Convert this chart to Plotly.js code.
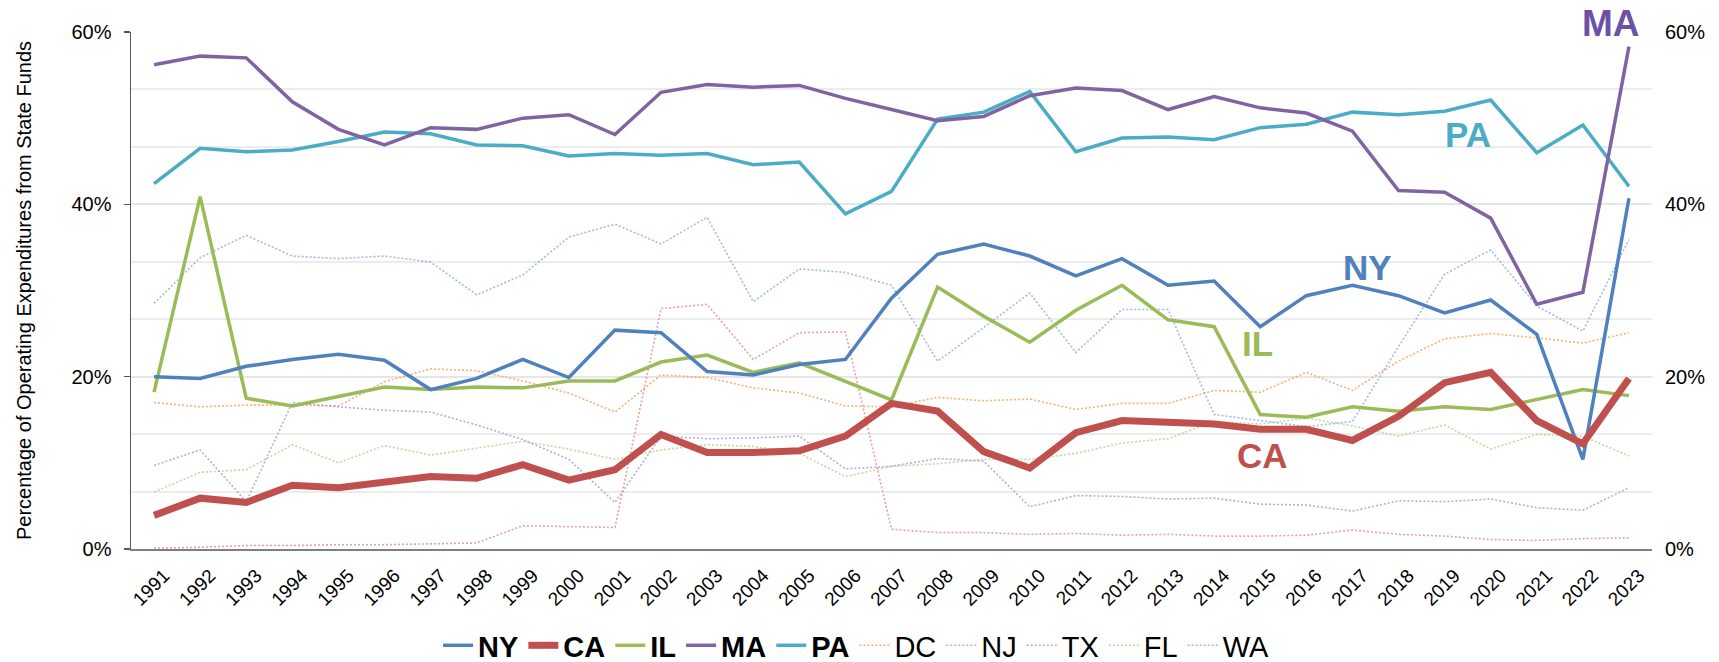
<!DOCTYPE html>
<html>
<head>
<meta charset="utf-8">
<script src="https://cdn.plot.ly/plotly-3.0.1.min.js"></script>
<style>
  html, body { margin: 0; padding: 0; background: #ffffff; }
  #chart { width: 1719px; height: 662px; }
</style>
</head>
<body>
<div id="chart"></div>
<script>
// ---- Data (percent of operating expenditures from state funds) ----
const years = [1991,1992,1993,1994,1995,1996,1997,1998,1999,2000,2001,2002,2003,2004,2005,2006,2007,2008,2009,2010,2011,2012,2013,2014,2015,2016,2017,2018,2019,2020,2021,2022,2023];
const yearLabels = years.map(String);

const NY = [20.0,19.8,21.2,22.0,22.6,21.9,18.5,19.8,22.0,19.9,25.4,25.1,20.6,20.2,21.4,22.0,29.1,34.2,35.4,34.0,31.7,33.7,30.6,31.1,25.8,29.4,30.6,29.4,27.4,28.9,24.9,10.4,40.7];
const CA = [3.9,5.9,5.4,7.4,7.1,7.8,8.4,8.2,9.8,8.0,9.2,13.3,11.2,11.2,11.4,13.1,16.9,16.0,11.3,9.4,13.5,14.9,14.8,14.5,13.9,13.9,12.6,15.4,19.3,20.5,14.9,12.2,19.8];
const IL = [18.2,40.9,17.5,16.6,17.7,18.8,18.5,18.8,18.7,19.5,19.5,21.7,22.5,20.5,21.6,19.5,17.3,30.4,27.0,24.0,27.7,30.6,26.6,25.8,15.6,15.3,16.5,16.0,16.5,16.2,17.4,18.5,17.8];
const MA = [56.2,57.2,57.0,51.9,48.7,46.9,48.9,48.7,50.0,50.4,48.1,53.0,53.9,53.6,53.8,52.3,51.0,49.7,50.2,52.6,53.5,53.2,51.0,52.5,51.2,50.6,48.5,41.6,41.4,38.4,28.4,29.8,58.3];
const PA = [42.4,46.5,46.1,46.3,47.3,48.4,48.2,46.9,46.8,45.6,45.9,45.7,45.9,44.6,44.9,38.9,41.5,49.9,50.7,53.1,46.1,47.7,47.8,47.5,48.9,49.3,50.7,50.4,50.8,52.1,46.0,49.2,42.1];
const DC = [17.0,16.5,16.7,16.7,16.6,19.4,20.9,20.7,19.5,18.1,15.9,20.2,19.9,18.7,18.1,16.6,16.5,17.6,17.2,17.4,16.2,16.9,16.9,18.4,18.2,20.5,18.4,21.8,24.4,25.0,24.5,23.9,25.1];
const NJ = [28.5,33.8,36.4,34.0,33.7,34.0,33.3,29.5,31.8,36.2,37.7,35.4,38.5,28.7,32.5,32.1,30.6,21.8,25.7,29.7,22.8,27.8,27.8,15.6,14.9,14.2,14.8,23.5,31.9,34.7,28.2,25.3,35.9];
const TX = [0.1,0.2,0.4,0.4,0.5,0.5,0.6,0.7,2.7,2.6,2.5,27.9,28.4,22.0,25.1,25.2,2.3,1.9,1.9,1.7,1.8,1.6,1.7,1.5,1.5,1.6,2.2,1.7,1.5,1.1,1.0,1.2,1.3];
const FL = [6.6,8.9,9.2,12.1,10.0,12.0,10.9,11.7,12.5,11.6,10.4,11.5,12.1,11.9,11.1,8.4,9.6,9.9,10.4,10.4,11.1,12.3,12.8,14.8,14.5,15.2,14.3,13.1,14.4,11.6,13.3,13.1,10.8];
const WA = [9.7,11.5,5.5,17.0,16.5,16.1,15.9,14.4,12.7,10.4,5.4,13.1,12.8,12.9,13.1,9.3,9.6,10.5,10.2,4.9,6.2,6.1,5.8,5.9,5.2,5.1,4.4,5.6,5.5,5.8,4.8,4.5,7.1];

const yTicks = [0, 20, 40, 60];
const yTickLabels = ["0%", "20%", "40%", "60%"];

// ---- Series styling ----
const FONT = "Liberation Sans, Arial, sans-serif";
const mainSeries = [
  {name: "NY", data: NY, color: "#4F81BD", width: 3.5, rank: 1},
  {name: "CA", data: CA, color: "#C0504D", width: 7,   rank: 2},
  {name: "IL", data: IL, color: "#9BBB59", width: 3.5, rank: 3},
  {name: "MA", data: MA, color: "#8064A2", width: 3.5, rank: 4},
  {name: "PA", data: PA, color: "#4BACC6", width: 3.5, rank: 5}
];
const minorSeries = [
  {name: "DC", data: DC, color: "#F79646", rank: 6},
  {name: "NJ", data: NJ, color: "#7FA6DA", rank: 7},
  {name: "TX", data: TX, color: "#E08080", rank: 8},
  {name: "FL", data: FL, color: "#A8CF7E", rank: 9},
  {name: "WA", data: WA, color: "#A08FD0", rank: 10}
];

const traces = [];
minorSeries.forEach(s => traces.push({
  type: "scatter", mode: "lines", x: years, y: s.data, name: s.name,
  legendrank: s.rank, opacity: 0.75,
  line: {color: s.color, width: 1.6, dash: "2px,2px"}
}));
// draw order: PA, MA, IL, NY, CA (CA on top)
["PA","MA","IL","NY","CA"].forEach(n => {
  const s = mainSeries.find(m => m.name === n);
  traces.push({
    type: "scatter", mode: "lines", x: years, y: s.data, name: "<b>" + s.name + "</b>",
    legendrank: s.rank,
    line: {color: s.color, width: s.width}
  });
});
// invisible trace so the right-hand axis is drawn
traces.push({type: "scatter", mode: "lines", x: years, y: MA, yaxis: "y2",
  showlegend: false, hoverinfo: "skip", line: {width: 0}, opacity: 0});

// label positions: x in years, y in percent
const labels = [
  {text: "MA", x: 2022.62, y: 61.0, color: "#6C51A6", size: 37},
  {text: "PA", x: 2019.51, y: 48.1, color: "#4BACC6", size: 35},
  {text: "NY", x: 2017.33, y: 32.7, color: "#4F81BD", size: 35},
  {text: "IL", x: 2014.95, y: 23.9, color: "#9BBB59", size: 35},
  {text: "CA", x: 2015.06, y: 10.9, color: "#C0504D", size: 35}
];
const Y_MAX = 60;

const layout = {
  width: 1719, height: 662,
  paper_bgcolor: "#ffffff", plot_bgcolor: "#ffffff",
  margin: {l: 131, r: 67, t: 32, b: 113, autoexpand: false},
  font: {family: FONT, color: "#000000", size: 16},
  showlegend: true,
  legend: {
    orientation: "h", xref: "container", yref: "container",
    x: 0.498, xanchor: "center", y: 0.025, yanchor: "middle",
    font: {family: "Liberation Sans Narrow, Liberation Sans, Arial, sans-serif", size: 29, color: "#000"},
    itemwidth: 30, traceorder: "normal", bgcolor: "rgba(0,0,0,0)"
  },
  xaxis: {
    range: [1990.5, 2023.5], tickmode: "array", tickvals: years, ticktext: yearLabels,
    tickangle: -45, tickfont: {size: 19, family: FONT, color: "#000"},
    ticklabelshift: 10, ticklabelstandoff: 6,
    showgrid: false, zeroline: false, showline: true, linecolor: "#7f7f7f", linewidth: 2,
    ticks: "", fixedrange: true
  },
  yaxis: {
    range: [0, Y_MAX], tickmode: "array", tickvals: yTicks, ticktext: yTickLabels,
    tickfont: {size: 20, family: FONT, color: "#000"}, ticklabelstandoff: 8,
    showgrid: true, gridcolor: "#e6e6e6", gridwidth: 2,
    minor: {dtick: 20/3, tick0: 0, showgrid: true, gridcolor: "#ececec", gridwidth: 2, ticks: ""},
    zeroline: false, showline: true, linecolor: "#595959", linewidth: 1.5,
    ticks: "outside", ticklen: 6, tickcolor: "#595959", tickwidth: 1.5,
    title: {text: "Percentage of Operating Expenditures from State Funds", font: {size: 20, family: FONT, color: "#000"}, standoff: 34},
    fixedrange: true
  },
  yaxis2: {
    overlaying: "y", side: "right", range: [0, Y_MAX], tickmode: "array", tickvals: yTicks, ticktext: yTickLabels,
    tickfont: {size: 20, family: FONT, color: "#000"}, ticklabelstandoff: 12,
    showgrid: false, zeroline: false, showline: false, ticks: "", fixedrange: true
  },
  annotations: labels.map(l => ({
    xref: "x",
    yref: l.y > Y_MAX ? "paper" : "y",
    x: l.x,
    y: l.y > Y_MAX ? l.y / Y_MAX : l.y,
    text: "<b>" + l.text + "</b>",
    showarrow: false, xanchor: "center", yanchor: "middle",
    font: {family: FONT, size: l.size, color: l.color}
  }))
};

Plotly.newPlot("chart", traces, layout, {staticPlot: true, displayModeBar: false});
</script>
</body>
</html>
